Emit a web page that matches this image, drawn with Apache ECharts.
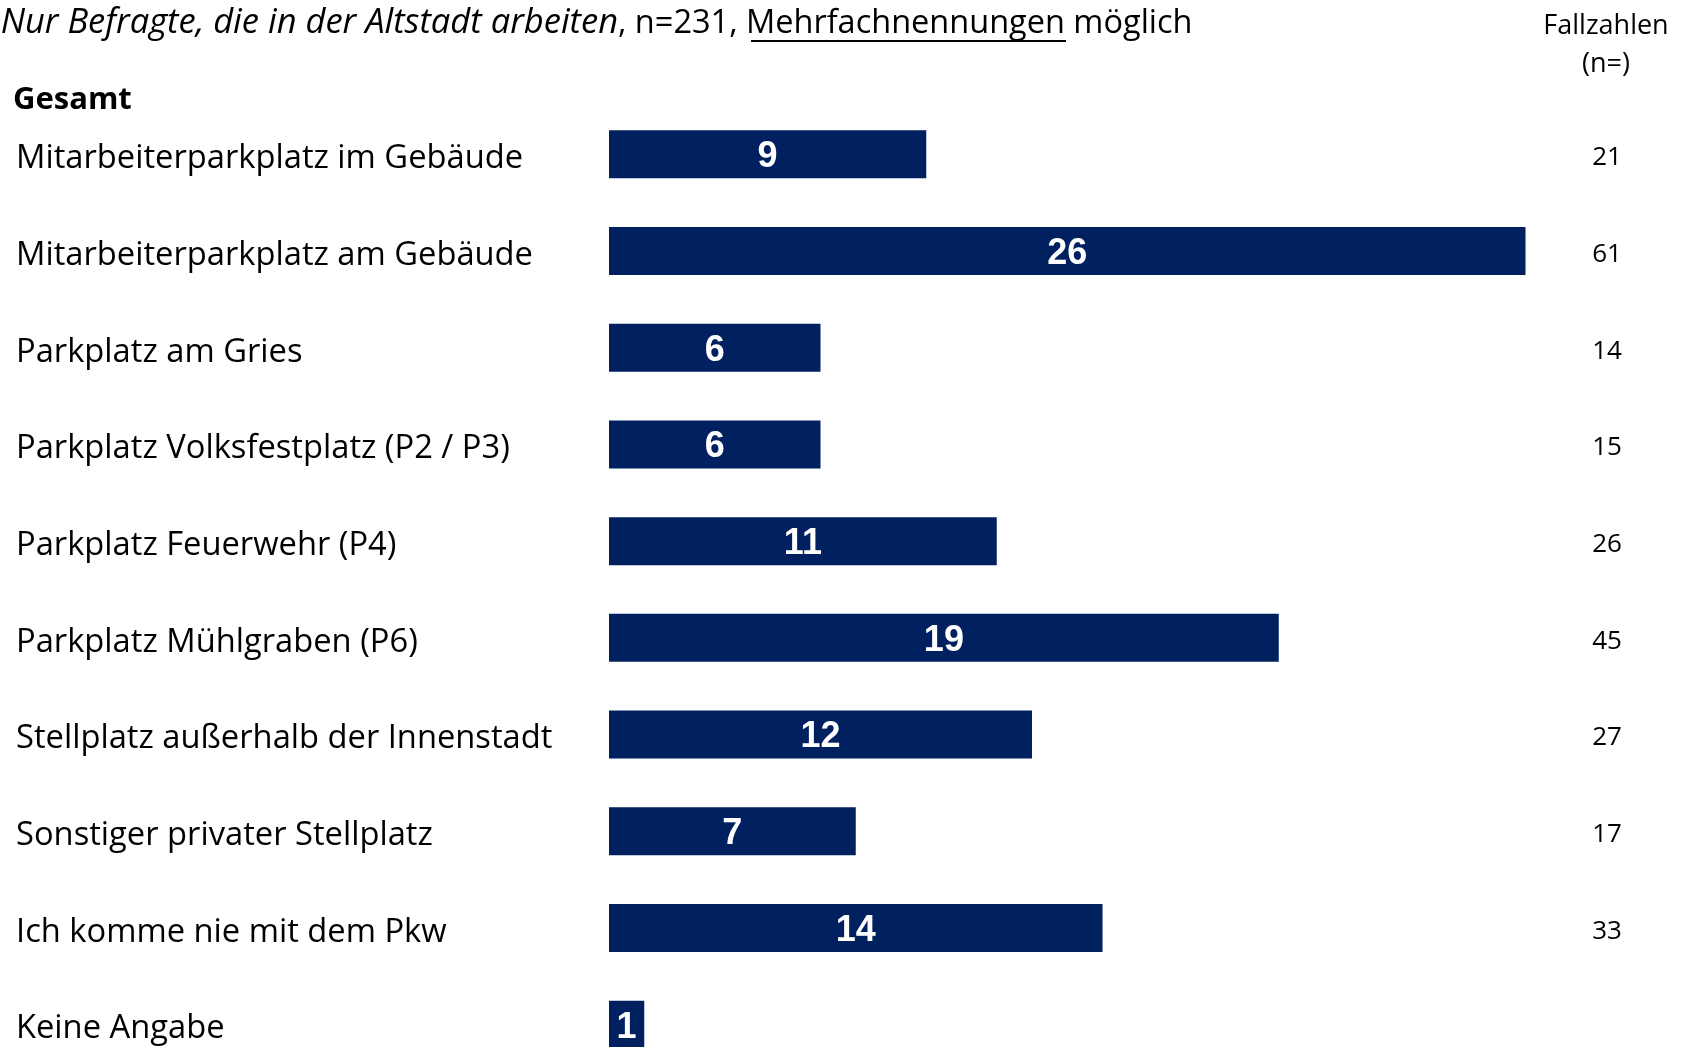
<!DOCTYPE html>
<html>
<head>
<meta charset="utf-8">
<script src="https://cdn.jsdelivr.net/npm/echarts@6/dist/echarts.min.js"></script>
<style>
  html, body { margin: 0; padding: 0; background: #fff; }
  #chart { width: 1689px; height: 1047px; }
</style>
</head>
<body>
<div id="chart"></div>
<script>
// Antworten (in %), Reihenfolge von oben nach unten
var categories = [
	'Mitarbeiterparkplatz im Gebäude',
	'Mitarbeiterparkplatz am Gebäude',
	'Parkplatz am Gries',
	'Parkplatz Volksfestplatz (P2 / P3)',
	'Parkplatz Feuerwehr (P4)',
	'Parkplatz Mühlgraben (P6)',
	'Stellplatz außerhalb der Innenstadt',
	'Sonstiger privater Stellplatz',
	'Ich komme nie mit dem Pkw',
	'Keine Angabe'
];
var percentValues = [9, 26, 6, 6, 11, 19, 12, 7, 14, 1];
// Fallzahl fuer "Keine Angabe" ist im Bild abgeschnitten
var caseCounts = ['21', '61', '14', '15', '26', '45', '27', '17', '33', ''];

var labelFont = '"Open Sans", Lato, sans-serif';

var myChart = echarts.init(document.getElementById('chart'));

var option = {
	backgroundColor: '#fff',
	animation: false,
	grid: {
		left: 609,
		right: 93,
		top: 106,
		height: 967,
		outerBoundsMode: 'none',
		containLabel: false
	},
	xAxis: {
		type: 'value',
		min: 0,
		max: 28,
		show: false
	},
	yAxis: [
		{
			type: 'category',
			inverse: true,
			data: categories,
			axisLine: { show: false },
			axisTick: { show: false },
			axisLabel: {
				align: 'left',
				verticalAlign: 'top',
				lineHeight: 9,
				margin: 593,
				color: '#000',
				fontFamily: labelFont,
				fontSize: 32.7
			}
		},
		{
			type: 'category',
			inverse: true,
			position: 'right',
			data: caseCounts,
			axisLine: { show: false },
			axisTick: { show: false },
			axisLabel: {
				align: 'center',
				verticalAlign: 'top',
				lineHeight: 7,
				margin: 11,
				color: '#000',
				fontFamily: labelFont,
				fontSize: 26
			}
		}
	],
	series: [
		{
			type: 'bar',
			data: percentValues,
			barWidth: 48,
			itemStyle: { color: '#002060' },
			label: {
				show: true,
				position: 'inside',
				offset: [0, 3],
				color: '#fff',
				fontFamily: '"Liberation Sans", Arial, sans-serif',
				fontWeight: 'bold',
				fontSize: 36
			}
		}
	],
	graphic: [
		{
			type: 'text',
			left: -8,
			top: 6,
			style: {
				text: '{it|:Nur Befragte, die in der Altstadt arbeiten}{n|, n=231, }{n|Mehrfachnennungen}{n| möglich}',
				rich: {
					it: { fontFamily: labelFont, fontStyle: 'italic', fontSize: 34.5, fill: '#000' },
					n: { fontFamily: labelFont, fontSize: 32.5, fill: '#000' }
				}
			}
		},
		{
			type: 'line',
			shape: { x1: 751, y1: 41, x2: 1066, y2: 41 },
			style: { stroke: '#000', lineWidth: 2 }
		},
		{
			type: 'text',
			left: 13,
			top: 85,
			style: {
				text: 'Gesamt',
				fontFamily: labelFont,
				fontWeight: 'bold',
				fontSize: 31,
				fill: '#000'
			}
		},
		{
			type: 'text',
			x: 1606,
			y: 7,
			style: {
				text: 'Fallzahlen\n(n=)',
				align: 'center',
				fontFamily: labelFont,
				fontSize: 27,
				lineHeight: 38,
				fill: '#000'
			}
		}
	]
};

myChart.setOption(option);
</script>
</body>
</html>
